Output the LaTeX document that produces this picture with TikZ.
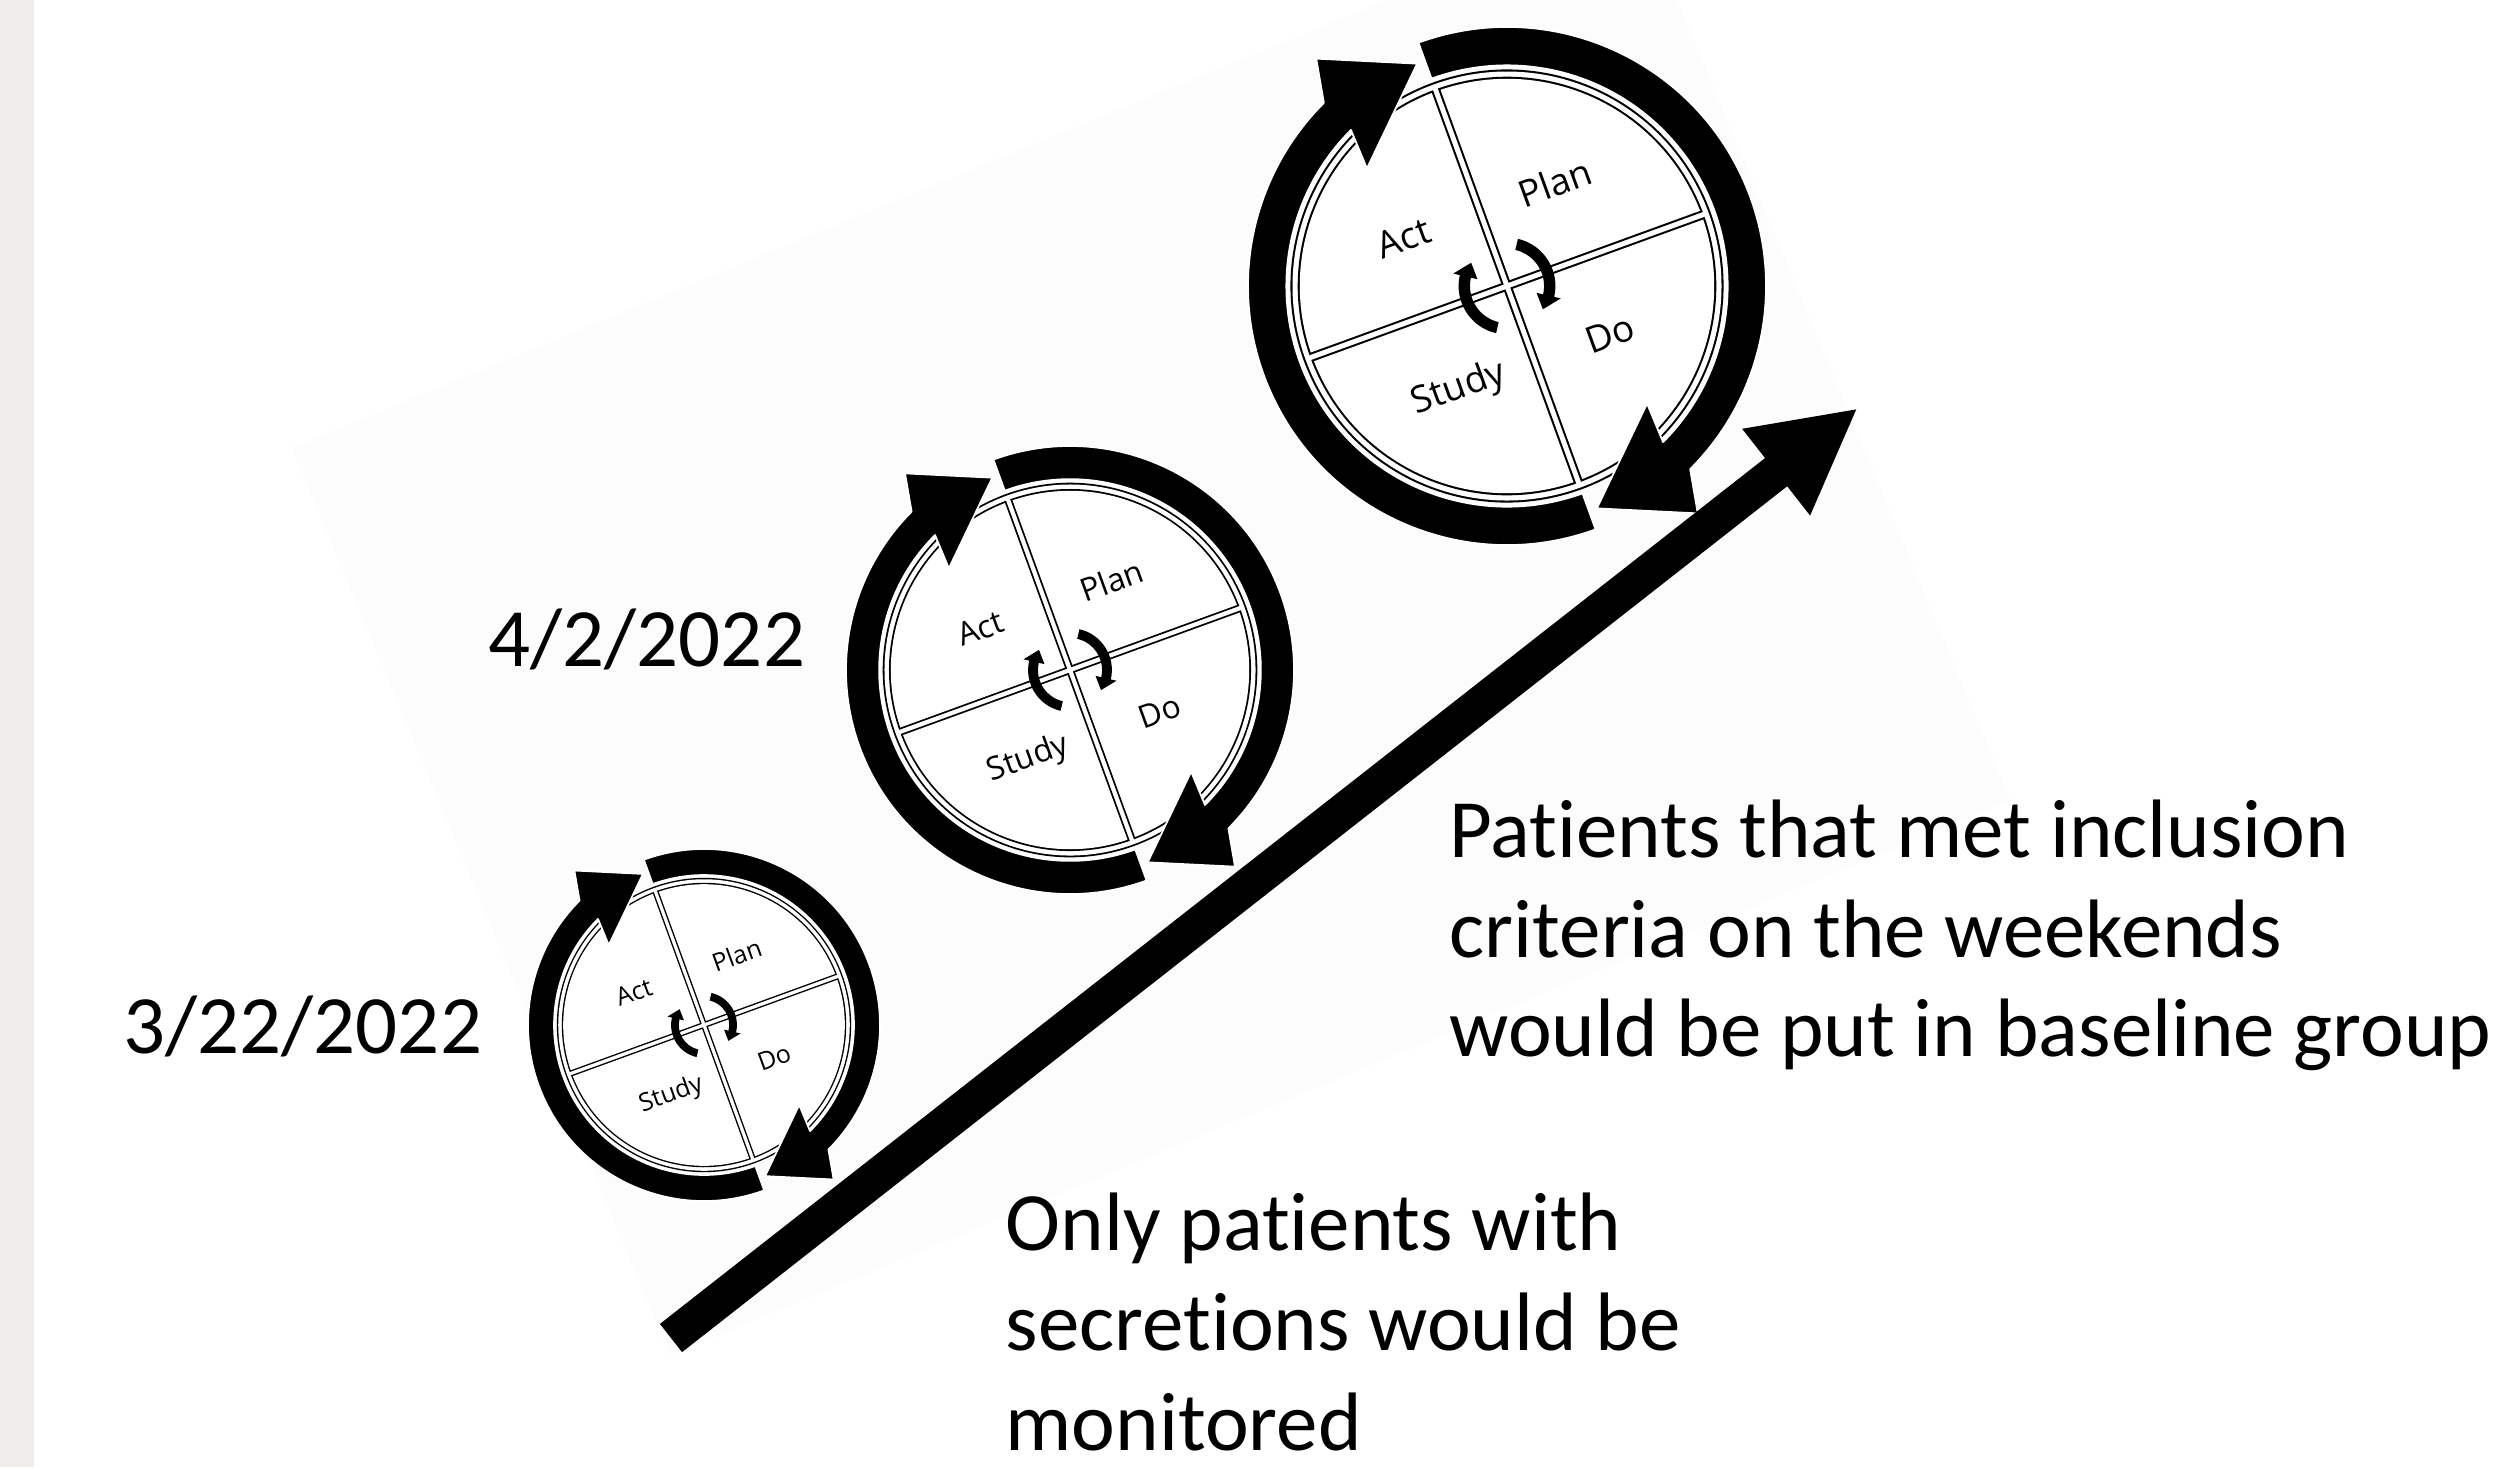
\documentclass[tikz,border=0pt]{standalone}
\usepackage{fontspec}
\setmainfont{Carlito}[Ligatures=NoCommon]
\newfontfamily\iconfont{Open Sans}[Ligatures=NoCommon]
\usetikzlibrary{arrows.meta}

\definecolor{stripgray}{RGB}{238,237,235}
\definecolor{pastegray}{RGB}{252,252,252}

% thick circular arrow running clockwise:
% #1 centre radius, #2 half thickness, #3 start angle (flat cut),
% #4 angle of the head base, #5 tip angle, #6 head half width, #7 barb skew
\newcommand{\circarrow}[7]{%
  ({#3}:{#1+#2}) arc[start angle={#3}, end angle={#4}, radius={#1+#2}]
  -- ({#4-#7}:{#1+#6}) -- ({#5}:{#1}) -- ({#4+#7}:{#1-#6}) -- ({#4}:{#1-#2})
  arc[start angle={#4}, end angle={#3}, radius={#1-#2}] -- cycle}

% one quarter of the disc: #1 half gap to the axes, #2 radius
\newcommand{\quadpath}[2]{%
  ({#1},{#1}) -- ({90-asin(#1/#2)}:{#2})
  arc[start angle={90-asin(#1/#2)}, end angle={asin(#1/#2)}, radius={#2}] -- cycle}

% PDSA wheel: #1 name prefix, #2 centre, #3 scale (outer ring radius / 100)
\newcommand{\pdsaicon}[3]{%
  \begin{scope}[shift={#2}, x=0.1mm, y=0.1mm, scale=#3, rotate=20]
    \fill[black] (0,0) circle[radius=83.6];
    \fill[white] (0,0) circle[radius=82.8];
    \foreach \q in {0,90,180,270}{
      \fill[black, rotate=\q] \quadpath{1.0}{80.8};
      \fill[white, rotate=\q] \quadpath{1.8}{80.0};
    }
    \fill[cyclearrow] \circarrow{92.6}{7.4}{90}{-65}{-88}{22}{5};
    \fill[cyclearrow] \circarrow{92.6}{7.4}{270}{115}{92}{22}{5};
    \fill[black] \circarrow{16.5}{2.2}{57}{-33}{-53}{4.8}{0};
    \fill[black] \circarrow{16.5}{2.2}{237}{147}{127}{4.8}{0};
    \node[quadlabel] (#1-plan) at (45:44) {Plan};
    \node[quadlabel] (#1-do) at (-45:44) {Do};
    \node[quadlabel] (#1-study) at (-135:44) {Study};
    \node[quadlabel] (#1-act) at (135:44) {Act};
  \end{scope}}

\begin{document}
\begin{tikzpicture}[x=0.1mm, y=-0.1mm,
  cyclearrow/.style={fill=black, draw=white, line width=0.5pt, line join=round},
  quadlabel/.style={transform shape, inner sep=0pt,
    font=\iconfont\fontsize{4.05pt}{4.8pt}\selectfont},
  bigtext/.style={anchor=base west, inner sep=0pt,
    font=\fontsize{23.6pt}{28.45pt}\selectfont}]
\useasboundingbox (0,0) rectangle (2500,1467);
\fill[white] (0,0) rectangle (2500,1467);
\fill[stripgray] (0,0) rectangle (34,1467);
\begin{scope}
  \clip (34,0) rectangle (2500,1467);
  \fill[pastegray] (292,448) -- (670,1355) -- (2010,800) -- (1635,-101) -- cycle;
\end{scope}

\pdsaicon{small}{(704,1025)}{1.76}
\pdsaicon{mid}{(1070,670)}{2.24}
\pdsaicon{big}{(1507,286)}{2.59}

% rising arrow
\coordinate (tail) at (671,1338);
\coordinate (tip) at (1858,408);
\draw[line width=10.2pt, -{Triangle[width=29pt,length=29.6pt]}] (tail) -- (tip);

% dates
\node[bigtext] (date1) at (123,1053) {3/22/2022};
\node[bigtext] (date2) at (488,666) {4/2/2022};

% notes
\node[bigtext] (weekend) at (1449,857) {\begin{tabular}[t]{@{}l@{}}Patients that met inclusion\\criteria on the weekends\\would be put in baseline group\end{tabular}};
\node[bigtext] (secretions) at (1005,1250) {\begin{tabular}[t]{@{}l@{}}Only patients with\\secretions would be\\monitored\end{tabular}};
\end{tikzpicture}
\end{document}
